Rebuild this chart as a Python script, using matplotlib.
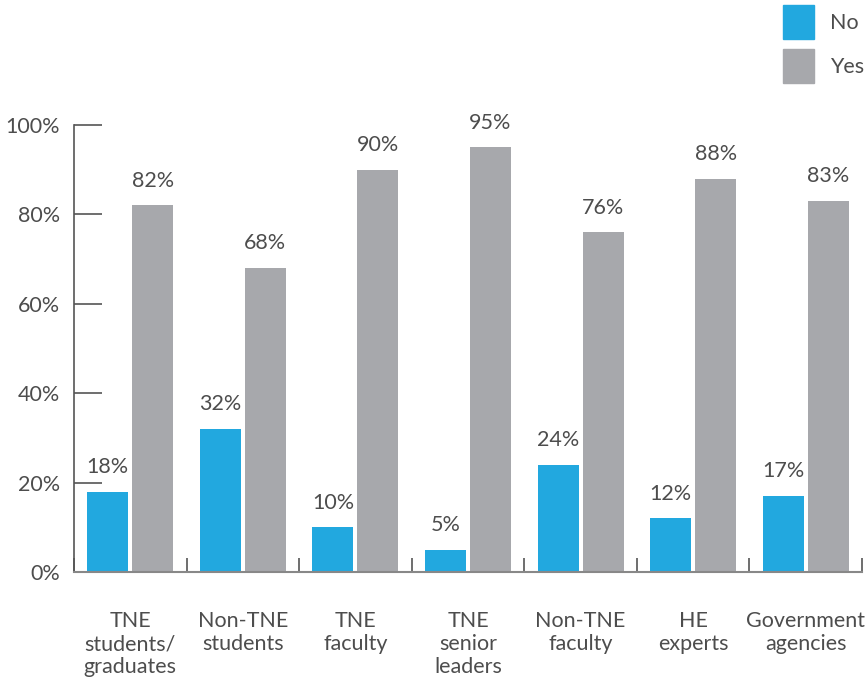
import numpy as np
import matplotlib
matplotlib.use("Agg")
import matplotlib.pyplot as plt
from matplotlib.patches import Patch

categories = ['TNE\nstudents/\ngraduates', 'Non-TNE\nstudents', 'TNE\nfaculty',
              'TNE\nsenior\nleaders', 'Non-TNE\nfaculty', 'HE\nexperts',
              'Government\nagencies']
no_vals = [18, 32, 10, 5, 24, 12, 17]
yes_vals = [82, 68, 90, 95, 76, 88, 83]

blue = '#22A8DF'
grey = '#A7A8AC'
txt = '#4d4d4d'

plt.rcParams['font.family'] = ['Lato', 'DejaVu Sans']

fig = plt.figure(figsize=(8.66, 6.8), dpi=100)
ax = fig.add_axes([74/866, 108/680, 788/866, 447/680])

x = np.arange(len(categories))
w = 0.365
ax.bar(x - 0.2, no_vals, w, color=blue)
ax.bar(x + 0.2, yes_vals, w, color=grey)

fs = 15.5
for i in range(len(categories)):
    ax.text(x[i] - 0.2, no_vals[i] + 3.3, f'{no_vals[i]}%', ha='center', va='bottom',
            fontsize=fs, color=txt)
    ax.text(x[i] + 0.2, yes_vals[i] + 3.3, f'{yes_vals[i]}%', ha='center', va='bottom',
            fontsize=fs, color=txt)

ax.set_xlim(-0.5, len(categories) - 0.5)
ax.set_ylim(0, 100)
ax.set_yticks(range(0, 101, 20))
ax.set_yticklabels([f'{v}%' for v in range(0, 101, 20)])
ax.tick_params(axis='y', direction='in', length=20, width=1.2, color='#555555',
               labelsize=fs, labelcolor=txt, pad=10)

# category boundary ticks on the x axis
ax.set_xticks(np.arange(-0.5, len(categories), 1.0))
ax.set_xticklabels([])
ax.tick_params(axis='x', direction='in', length=10, width=1.2, color='#555555')
for i, c in enumerate(categories):
    ax.text(x[i], -8.8, c, ha='center', va='top', fontsize=fs, color=txt,
            linespacing=1.17, clip_on=False)

for s in ['top', 'right']:
    ax.spines[s].set_visible(False)
ax.spines['left'].set_color('#555555')
ax.spines['left'].set_linewidth(1.2)
ax.spines['bottom'].set_color('#888888')
ax.spines['bottom'].set_linewidth(1.5)

handles = [Patch(color=blue, label='No'), Patch(color=grey, label='Yes')]
fig.legend(handles=handles, loc='upper left', bbox_to_anchor=(772/866, 1.008),
           frameon=False, fontsize=fs, labelcolor=txt, handlelength=1.45,
           handleheight=2.0, handletextpad=0.75, labelspacing=0.5, borderaxespad=0.1)

fig.savefig('out.png', dpi=100)
